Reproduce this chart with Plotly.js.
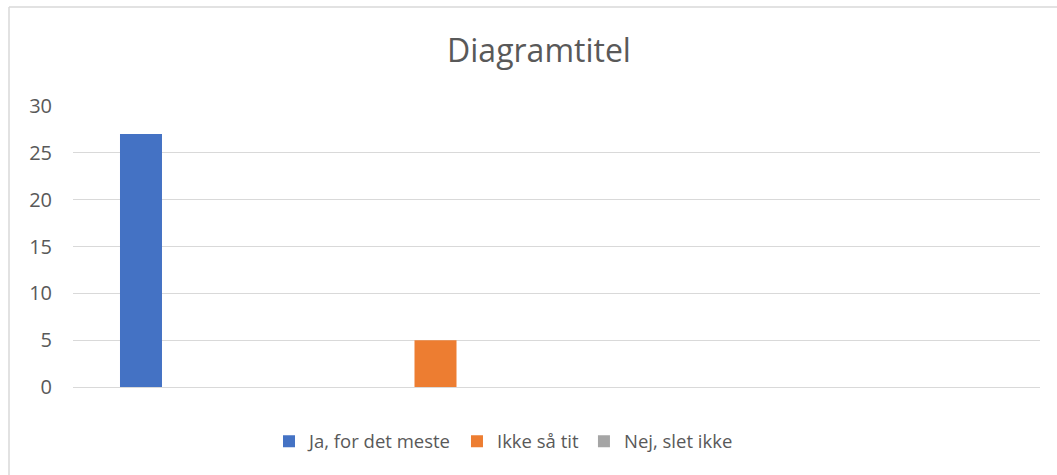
<!DOCTYPE html>
<html>
<head>
<meta charset="utf-8">
<script src="https://cdn.plot.ly/plotly-3.0.1.min.js"></script>
<style>
  html, body { margin: 0; padding: 0; background: #fff; }
  #chart { width: 1057px; height: 475px; }
</style>
</head>
<body>
<div id="chart"></div>
<script>
const chartTitle = "Diagramtitel";
const categories = ["Ja, for det meste", "Ikke så tit", "Nej, slet ikke"];
const values = [27, 5, 0];
const colors = ["#4472C4", "#ED7D31", "#A5A5A5"];
const yTicks = [0, 5, 10, 15, 20, 25, 30];

const textColor = "#595959";
const gridColor = "#D9D9D9";
const fontFamily = "'Open Sans', 'Noto Sans', sans-serif";

const traces = categories.map((c, i) => ({
  type: "bar",
  name: c,
  x: [c],
  y: [values[i]],
  alignmentgroup: "a",
  offsetgroup: "g" + i,
  marker: { color: colors[i], line: { width: 0 } },
  hoverinfo: "skip"
}));

const W = 1057, H = 475;
const mL = 73, mR = 17, mT = 106, mB = 88;
const pw = W - mL - mR, ph = H - mT - mB;
const px2x = p => (p - mL) / pw;
const py2y = p => (H - mB - p) / ph;

const layout = {
  width: W,
  height: H,
  margin: { l: mL, r: mR, t: mT, b: mB, pad: 0 },
  paper_bgcolor: "#ffffff",
  plot_bgcolor: "#ffffff",
  font: { family: fontFamily, color: textColor },
  title: {
    text: chartTitle,
    font: { family: fontFamily, size: 32, color: textColor },
    x: 539 / W,
    xanchor: "center",
    xref: "container",
    yref: "container",
    y: 1 - 51 / H,
    yanchor: "middle"
  },
  barmode: "group",
  bargap: 0.501,
  bargroupgap: 0,
  xaxis: {
    type: "category",
    range: [-0.4356, 3.394],
    showticklabels: false,
    showgrid: false,
    zeroline: false,
    showline: false,
    ticks: "",
    fixedrange: true
  },
  yaxis: {
    range: [0, 30],
    tickvals: yTicks,
    ticktext: yTicks.map(String),
    showgrid: true,
    gridcolor: gridColor,
    gridwidth: 1,
    zeroline: true,
    zerolinecolor: gridColor,
    zerolinewidth: 1,
    showline: false,
    ticks: "",
    ticklabelstandoff: 20,
    tickfont: { family: fontFamily, size: 20, color: textColor },
    fixedrange: true
  },
  showlegend: true,
  legend: {
    orientation: "h",
    x: px2x(269),
    xanchor: "left",
    y: py2y(441.7),
    yanchor: "middle",
    font: { family: fontFamily, size: 18.5, color: textColor },
    bgcolor: "rgba(0,0,0,0)",
    borderwidth: 0,
    traceorder: "normal"
  },
  shapes: [
    { type: "line", xref: "paper", yref: "paper",
      x0: px2x(9), x1: px2x(9), y0: py2y(7), y1: py2y(480),
      line: { color: gridColor, width: 1.5 } },
    { type: "line", xref: "paper", yref: "paper",
      x0: px2x(9), x1: px2x(1060), y0: py2y(7), y1: py2y(7),
      line: { color: gridColor, width: 1.5 } }
  ]
};

Plotly.newPlot("chart", traces, layout, { displayModeBar: false, staticPlot: true });
</script>
</body>
</html>
